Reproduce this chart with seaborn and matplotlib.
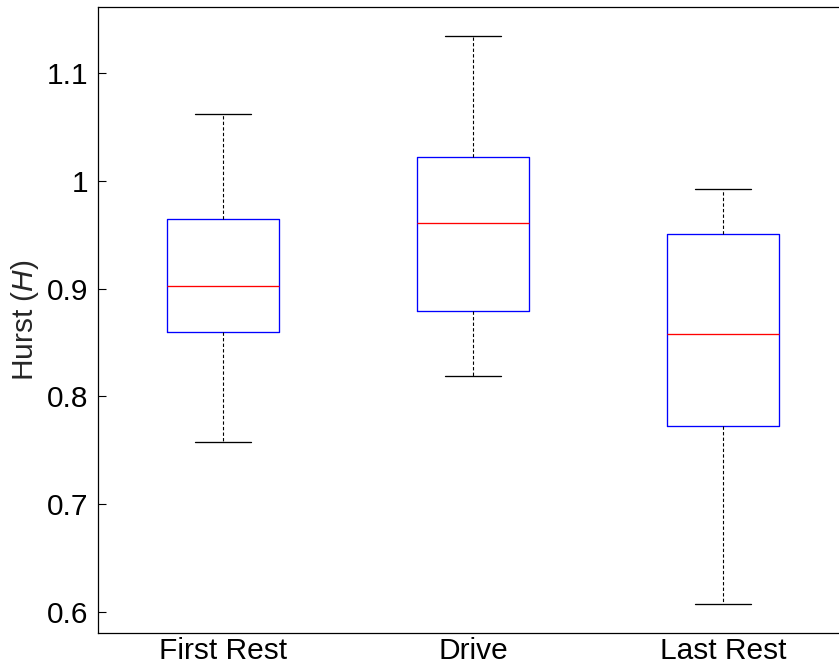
import numpy as np
import pandas as pd
import matplotlib
matplotlib.use("Agg")
import matplotlib.pyplot as plt
import seaborn as sns
from matplotlib.ticker import FuncFormatter

# Session labels and Hurst exponent values per session
categories = ["First Rest", "Drive", "Last Rest"]
first_rest = [0.758, 0.860, 0.902, 0.965, 1.062]
drive = [0.819, 0.879, 0.961, 1.022, 1.134]
last_rest = [0.607, 0.773, 0.858, 0.951, 0.992]
y_ticks = [0.6, 0.7, 0.8, 0.9, 1.0, 1.1]

df = pd.DataFrame({
    "session": np.repeat(categories, [len(first_rest), len(drive), len(last_rest)]),
    "hurst": first_rest + drive + last_rest,
})

sns.set_theme(style="white")
plt.rcParams["font.family"] = ["Liberation Sans", "DejaVu Sans"]
plt.rcParams["mathtext.fontset"] = "custom"
plt.rcParams["mathtext.rm"] = "Liberation Sans"
plt.rcParams["mathtext.it"] = "Liberation Sans:italic"

fig = plt.figure(figsize=(8.39, 6.65), dpi=100)
ax = fig.add_axes([98 / 839, 32 / 665, 750 / 839, 626 / 665])

lw = 0.95
fs = 21.5
sns.boxplot(
    data=df, x="session", y="hurst", order=categories, ax=ax,
    fill=False, color="blue", width=0.448, whis=np.inf, linewidth=lw,
    boxprops=dict(color="blue", linewidth=lw),
    medianprops=dict(color="red", linewidth=lw),
    whiskerprops=dict(color="black", linewidth=0.8, linestyle=(0, (3, 2))),
    capprops=dict(color="black", linewidth=lw),
    showfliers=False,
)

ax.set_xlim(-0.5, 2.5)
ax.set_ylim(0.58052, 1.16122)
ax.set_yticks(y_ticks)
ax.yaxis.set_major_formatter(FuncFormatter(lambda v, p: f"{v:g}"))
ax.set_xlabel("")
ax.set_ylabel("Hurst ($\\mathit{H}$)", fontsize=fs, labelpad=4)
ax.tick_params(axis="y", direction="in", length=6, width=0.8, labelsize=fs,
               left=True, pad=7, colors="black")
ax.tick_params(axis="x", length=0, labelsize=fs, pad=3, colors="black")

for side in ["left", "bottom", "top", "right"]:
    ax.spines[side].set_color("black")
    ax.spines[side].set_linewidth(0.9)

fig.savefig("out.png", dpi=100)
